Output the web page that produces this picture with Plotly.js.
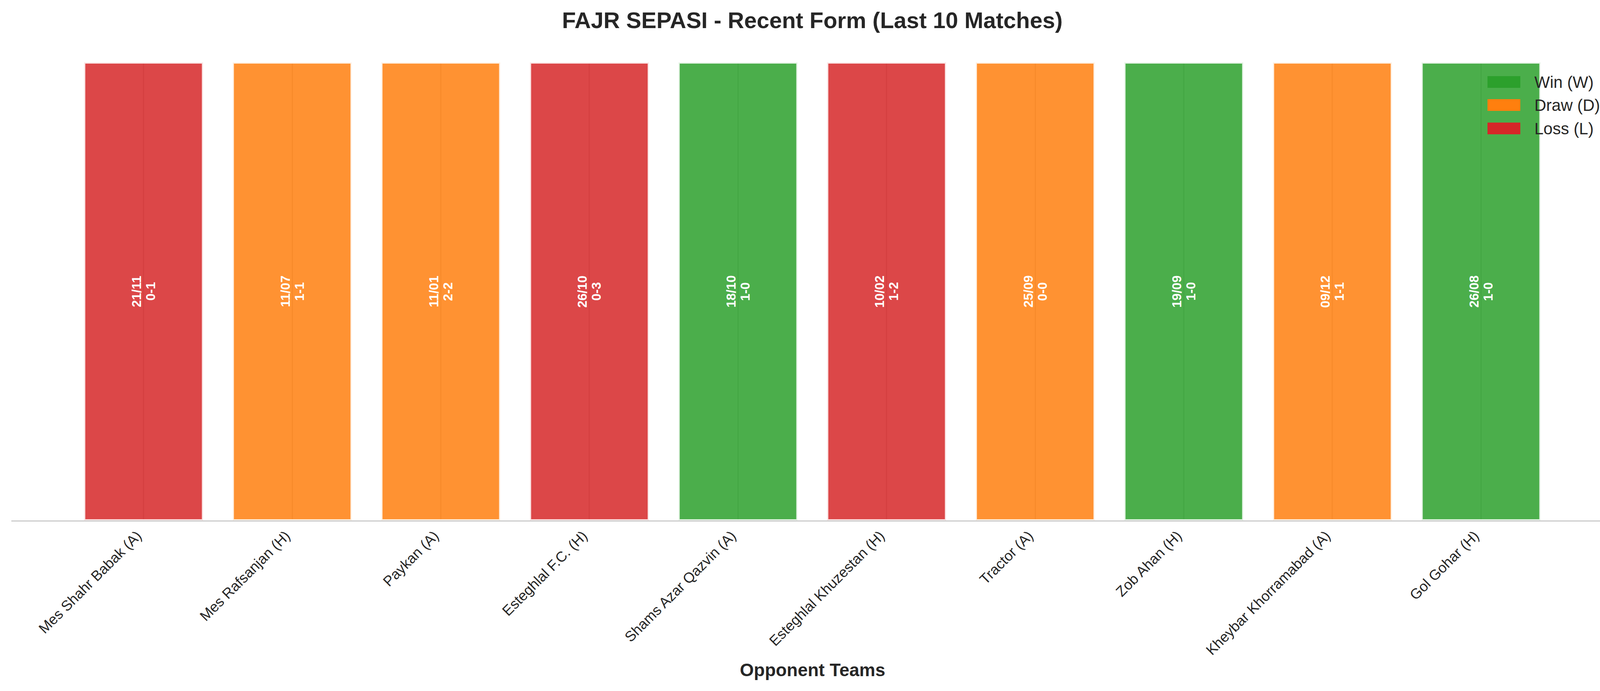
<!DOCTYPE html>
<html>
<head>
<meta charset="utf-8">
<script src="https://cdn.plot.ly/plotly-3.0.1.min.js"></script>
<style>
  html, body { margin: 0; padding: 0; background: #ffffff; overflow: hidden; }
  #chart { width: 4158px; height: 1770px; }
</style>
</head>
<body>
<div id="chart"></div>
<script>
var opponents = [
  'Mes Shahr Babak (A)', 'Mes Rafsanjan (H)', 'Paykan (A)', 'Esteghlal F.C. (H)',
  'Shams Azar Qazvin (A)', 'Esteghlal Khuzestan (H)', 'Tractor (A)', 'Zob Ahan (H)',
  'Kheybar Khorramabad (A)', 'Gol Gohar (H)'
];
var matchDates = ['21/11', '11/07', '11/01', '26/10', '18/10', '10/02', '25/09', '19/09', '09/12', '26/08'];
var scores = ['0-1', '1-1', '2-2', '0-3', '1-0', '1-2', '0-0', '1-0', '1-1', '1-0'];
var results = ['L', 'D', 'D', 'L', 'W', 'L', 'D', 'W', 'D', 'W'];
var barHeights = [1, 1, 1, 1, 1, 1, 1, 1, 1, 1];

var outcomeCodes = ['W', 'D', 'L'];
var outcomeNames = ['Win (W)', 'Draw (D)', 'Loss (L)'];
var outcomeRgb = ['44, 160, 44', '255, 127, 14', '214, 39, 40'];

var W = 4158, H = 1770;
var M = { l: 29, r: 28, t: 160, b: 437 };
var fontFamily = 'Liberation Sans, Arial, Helvetica, sans-serif';
var textColor = '#262626';

function px_to_paper_x(px) {
  return (px - M.l) / (W - M.l - M.r);
}
function px_to_paper_y(py) {
  return 1 - (py - M.t) / (H - M.t - M.b);
}
function rgb_for(code, alpha) {
  return 'rgba(' + outcomeRgb[outcomeCodes.indexOf(code)] + ', ' + alpha + ')';
}

var trace = {
  type: 'bar',
  x: opponents,
  y: barHeights,
  width: 0.8,
  marker: {
    color: results.map(function (r) { return rgb_for(r, 0.85); }),
    line: { color: 'rgba(255, 255, 255, 0.85)', width: 6 }
  },
  hoverinfo: 'x',
  showlegend: false
};

var annotations = [];
opponents.forEach(function (name, i) {
  annotations.push({
    x: name, y: 0.5, xref: 'x', yref: 'y',
    text: '<b>' + matchDates[i] + '</b>',
    showarrow: false, textangle: -90, xshift: -18,
    font: { family: fontFamily, size: 33, color: '#ffffff' }
  });
  annotations.push({
    x: name, y: 0.5, xref: 'x', yref: 'y',
    text: '<b>' + scores[i] + '</b>',
    showarrow: false, textangle: -90, xshift: 18,
    font: { family: fontFamily, size: 33, color: '#ffffff' }
  });
});

// x axis title as an annotation, the axis title gets clamped to the bottom margin
annotations.push({
  xref: 'paper', yref: 'paper',
  x: 0.5, y: px_to_paper_y(1716),
  xanchor: 'center', yanchor: 'middle',
  text: '<b>Opponent Teams</b>', showarrow: false,
  font: { family: fontFamily, size: 46, color: textColor }
});

// legend drawn by hand so the swatches match the wide matplotlib patches
var shapes = [];
var legendRows = [210, 269, 329];
outcomeNames.forEach(function (label, k) {
  shapes.push({
    type: 'rect', xref: 'paper', yref: 'paper', layer: 'above',
    x0: px_to_paper_x(3808), x1: px_to_paper_x(3892),
    y0: px_to_paper_y(legendRows[k] + 15), y1: px_to_paper_y(legendRows[k] - 15),
    fillcolor: 'rgb(' + outcomeRgb[k] + ')',
    line: { width: 0 }
  });
  annotations.push({
    xref: 'paper', yref: 'paper',
    x: px_to_paper_x(3926), y: px_to_paper_y(legendRows[k]),
    xanchor: 'left', yanchor: 'middle',
    text: label, showarrow: false,
    font: { family: fontFamily, size: 42, color: textColor }
  });
});

var layout = {
  width: W,
  height: H,
  margin: { l: M.l, r: M.r, t: M.t, b: M.b, pad: 0 },
  paper_bgcolor: '#ffffff',
  plot_bgcolor: '#ffffff',
  font: { family: fontFamily, color: textColor },
  showlegend: false,
  bargap: 0.2,
  title: {
    text: '<b>FAJR SEPASI - Recent Form (Last 10 Matches)</b>',
    x: 0.5, xref: 'paper', xanchor: 'center',
    y: 1 - 52 / H, yref: 'container', yanchor: 'middle',
    font: { family: fontFamily, size: 58, color: textColor }
  },
  xaxis: {
    type: 'category',
    range: [-0.89, 9.89],
    tickangle: -45,
    tickfont: { family: fontFamily, size: 37, color: textColor },
    ticks: '',
    ticklabelstandoff: 0,
    ticklabelshift: -16,
    showgrid: true,
    gridcolor: '#cccccc',
    gridwidth: 3,
    showline: true,
    linecolor: '#cccccc',
    linewidth: 3,
    zeroline: false,
    automargin: false
  },
  yaxis: {
    range: [0, 1],
    showticklabels: false,
    showgrid: false,
    zeroline: false,
    showline: false,
    ticks: '',
    automargin: false
  },
  shapes: shapes,
  annotations: annotations
};

var config = { displayModeBar: false, responsive: false };

Plotly.newPlot('chart', [trace], layout, config);
</script>
</body>
</html>
